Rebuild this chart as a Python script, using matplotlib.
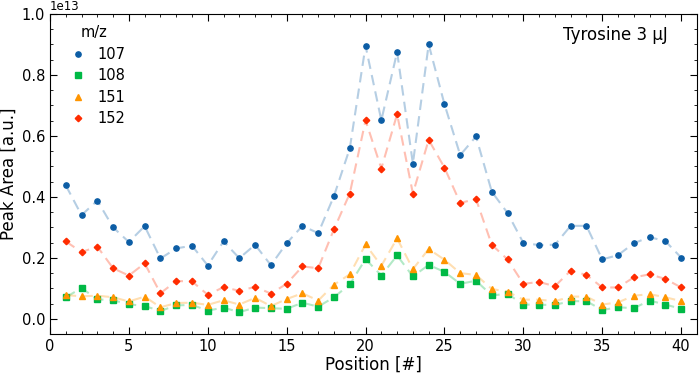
import matplotlib.pyplot as plt
import numpy as np

# --- DATA (peak area, units of 1e13) ---
posicoes = list(range(1, 41))

mz_107 = [0.438, 0.340, 0.388, 0.300, 0.252, 0.304, 0.198, 0.231, 0.240, 0.175,
          0.254, 0.199, 0.243, 0.176, 0.248, 0.305, 0.281, 0.403, 0.559, 0.895,
          0.651, 0.875, 0.509, 0.900, 0.704, 0.537, 0.598, 0.417, 0.347, 0.249,
          0.242, 0.243, 0.305, 0.305, 0.195, 0.209, 0.248, 0.268, 0.255, 0.201]

mz_108 = [0.071, 0.101, 0.064, 0.061, 0.048, 0.042, 0.026, 0.044, 0.046, 0.027,
          0.037, 0.022, 0.037, 0.035, 0.033, 0.053, 0.040, 0.071, 0.113, 0.196,
          0.142, 0.208, 0.139, 0.177, 0.154, 0.115, 0.125, 0.077, 0.082, 0.047,
          0.046, 0.046, 0.058, 0.058, 0.029, 0.038, 0.035, 0.060, 0.047, 0.033]

mz_151 = [0.078, 0.074, 0.076, 0.071, 0.057, 0.073, 0.038, 0.052, 0.053, 0.046,
          0.061, 0.047, 0.069, 0.042, 0.065, 0.084, 0.060, 0.112, 0.146, 0.244,
          0.174, 0.264, 0.163, 0.229, 0.194, 0.150, 0.144, 0.098, 0.089, 0.063,
          0.063, 0.058, 0.073, 0.073, 0.047, 0.054, 0.076, 0.081, 0.071, 0.058]

mz_152 = [0.254, 0.219, 0.237, 0.166, 0.142, 0.182, 0.084, 0.124, 0.123, 0.079,
          0.104, 0.092, 0.105, 0.083, 0.115, 0.172, 0.166, 0.294, 0.411, 0.651,
          0.493, 0.671, 0.411, 0.587, 0.496, 0.380, 0.393, 0.243, 0.195, 0.115,
          0.121, 0.107, 0.158, 0.144, 0.103, 0.103, 0.136, 0.146, 0.131, 0.103]

series = [("107", mz_107, "#0C5DA5", "o"),
          ("108", mz_108, "#00B945", "s"),
          ("151", mz_151, "#FF9500", "^"),
          ("152", mz_152, "#FF2C00", "D")]

fig = plt.figure(figsize=(6.99, 3.75), dpi=100)
ax = fig.add_axes([0.0715, 0.109, 0.9255, 0.854])

for nome, valores, cor, marcador in series:
    y = np.array(valores) * 1e13
    ax.plot(posicoes, y, linestyle=(0, (5, 3)), color=cor, alpha=0.3, lw=1.5)
    ax.plot(posicoes, y, linestyle="none", marker=marcador, color=cor,
            markersize=3.8 if marcador != "D" else 3.3, label=nome)

ax.set_xlim(0, 41)
ax.set_ylim(-0.05e13, 1.0e13)
ax.set_xticks(range(0, 41, 5))
ax.set_xticks(range(0, 42), minor=True)
ax.set_yticks(np.arange(0, 1.01, 0.2) * 1e13)
ax.set_yticks(np.arange(0, 1.01, 0.05) * 1e13, minor=True)
ax.tick_params(which="both", direction="in", top=True, right=True, labelsize=10.5)
ax.tick_params(which="major", length=5)
ax.tick_params(which="minor", length=2.5)
ax.yaxis.get_offset_text().set_fontsize(8.5)

ax.set_xlabel("Position [#]", fontsize=12, labelpad=1)
ax.set_ylabel("Peak Area [a.u.]", fontsize=12, labelpad=3)

ax.legend(title="m/z", loc="upper left", frameon=False, fontsize=10.5,
          title_fontsize=10.5, handletextpad=0.3, labelspacing=0.45,
          borderaxespad=0, bbox_to_anchor=(0.012, 0.983))
ax.text(0.955, 0.934, "Tyrosine 3 µJ", transform=ax.transAxes, ha="right",
        va="center", fontsize=12)

fig.savefig("out.png", dpi=100)
